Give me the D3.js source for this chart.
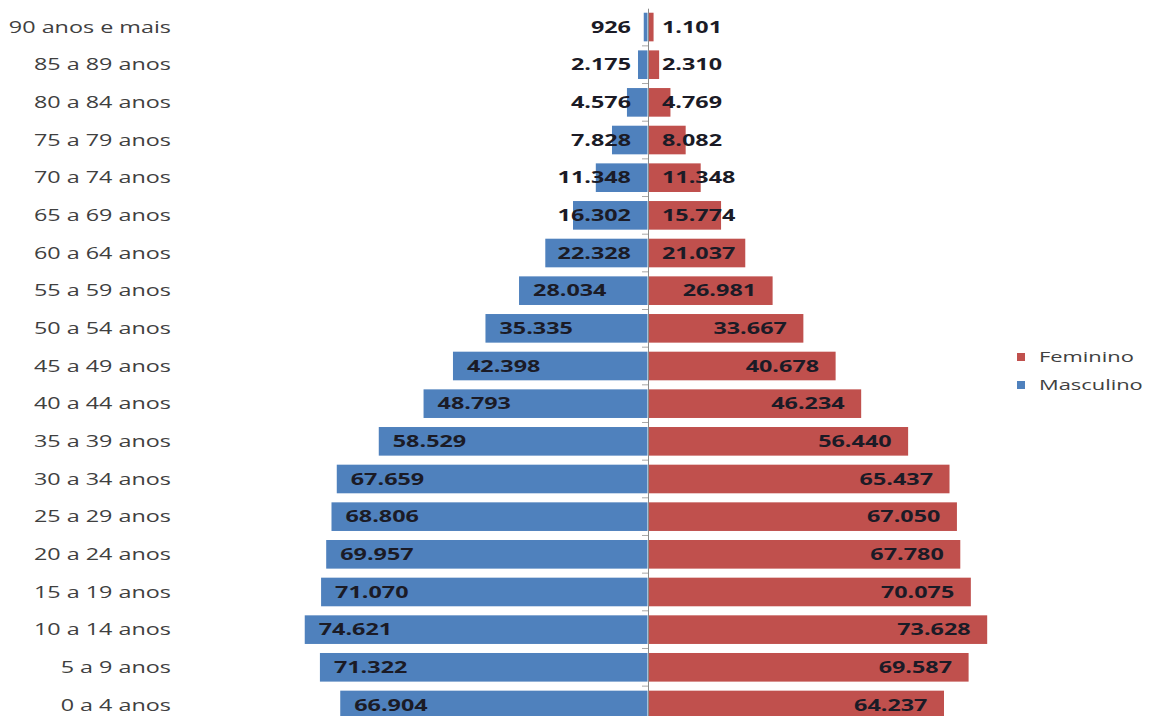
<!DOCTYPE html>
<html>
<head>
<meta charset="utf-8">
<script src="https://cdn.jsdelivr.net/npm/d3@7"></script>
<style>
  html, body { margin: 0; padding: 0; background: #ffffff; }
  svg { display: block; }
</style>
</head>
<body>
<svg id="chart" width="1150" height="716"></svg>
<script>
const categories = ["90 anos e mais", "85 a 89 anos", "80 a 84 anos", "75 a 79 anos", "70 a 74 anos",
  "65 a 69 anos", "60 a 64 anos", "55 a 59 anos", "50 a 54 anos", "45 a 49 anos", "40 a 44 anos",
  "35 a 39 anos", "30 a 34 anos", "25 a 29 anos", "20 a 24 anos", "15 a 19 anos", "10 a 14 anos",
  "5 a 9 anos", "0 a 4 anos"];
const masculino = [926, 2175, 4576, 7828, 11348, 16302, 22328, 28034, 35335, 42398, 48793,
  58529, 67659, 68806, 69957, 71070, 74621, 71322, 66904];
const feminino = [1101, 2310, 4769, 8082, 11348, 15774, 21037, 26981, 33667, 40678, 46234,
  56440, 65437, 67050, 67780, 70075, 73628, 69587, 64237];
const seriesNames = ["Feminino", "Masculino"];
const seriesColors = ["#C0504D", "#4F81BD"];

const svg = d3.select("#chart");
const cx = 648;
const SX = 1.46; // horizontal stretch of the text

const x = d3.scaleLinear().domain([0, 80000]).range([0, 368]);
const y = d3.scaleBand().domain(categories).range([8.2, 723.8]).paddingInner(0.24).paddingOuter(0.12);

const fmt = d3.formatLocale({decimal: ",", thousands: ".", grouping: [3], currency: ["", ""]}).format(",d");

const rows = categories.map((c, i) => ({cat: c, m: masculino[i], f: feminino[i]}));

// bars
svg.append("g").selectAll("rect.m").data(rows).join("rect")
  .attr("x", d => cx - x(d.m)).attr("y", d => y(d.cat))
  .attr("width", d => x(d.m) - 0.5).attr("height", y.bandwidth())
  .attr("fill", seriesColors[1]);
svg.append("g").selectAll("rect.f").data(rows).join("rect")
  .attr("x", cx + 0.5).attr("y", d => y(d.cat))
  .attr("width", d => x(d.f)).attr("height", y.bandwidth())
  .attr("fill", seriesColors[0]);

// axis
const axis = svg.append("g").attr("transform", `translate(${cx},0)`)
  .call(d3.axisLeft(y).tickSize(0).tickFormat(""));
axis.select(".domain").attr("stroke", "#8a8a8a").attr("stroke-width", 1);
const bounds = d3.range(1, categories.length).map(i => y(categories[i]) - y.step() * y.paddingInner() / 2);
svg.append("g").selectAll("line").data(bounds).join("line")
  .attr("x1", cx - 6).attr("x2", cx).attr("y1", d => d).attr("y2", d => d)
  .attr("stroke", "#a8a8a8").attr("stroke-width", 1);

// category labels
svg.append("g").selectAll("g").data(rows).join("g")
  .attr("transform", d => `translate(171,${y(d.cat) + y.bandwidth() / 2 + 5.6}) scale(${SX},1)`)
  .append("text")
  .attr("text-anchor", "end")
  .attr("font-family", "'Open Sans', sans-serif")
  .attr("font-size", 16)
  .attr("fill", "#404040")
  .text(d => d.cat);

// value labels
function valueLabel(side) {
  const g = svg.append("g").selectAll("g").data(rows).join("g");
  const t = g.append("text")
    .attr("font-family", "'Open Sans', sans-serif")
    .attr("font-weight", 700)
    .attr("font-size", 16)
    .attr("fill", "#1b1b26")
    .text(d => fmt(side === "m" ? d.m : d.f));
  t.each(function(d) {
    const w = this.getComputedTextLength() * SX;
    let left;
    if (side === "m") {
      left = cx - x(d.m) + 14;
      if (left + w > cx - 17) left = cx - 17 - w;
    } else {
      let right = cx + x(d.f) - 16;
      if (right - w < cx + 14) right = cx + 14 + w;
      left = right - w;
    }
    d3.select(this.parentNode)
      .attr("transform", `translate(${left},${y(d.cat) + y.bandwidth() / 2 + 5.8}) scale(${SX},1)`);
  });
}
valueLabel("m");
valueLabel("f");

// legend
const lg = svg.append("g").selectAll("g").data(seriesNames).join("g")
  .attr("transform", (d, i) => `translate(1017,${353 + i * 28})`);
lg.append("rect").attr("width", 8).attr("height", 8).attr("fill", (d, i) => seriesColors[i]);
lg.append("g").attr("transform", `translate(22,9) scale(${SX},1)`)
  .append("text")
  .attr("font-family", "'Open Sans', sans-serif")
  .attr("font-size", 15)
  .attr("fill", "#404040")
  .text(d => d);
</script>
</body>
</html>
